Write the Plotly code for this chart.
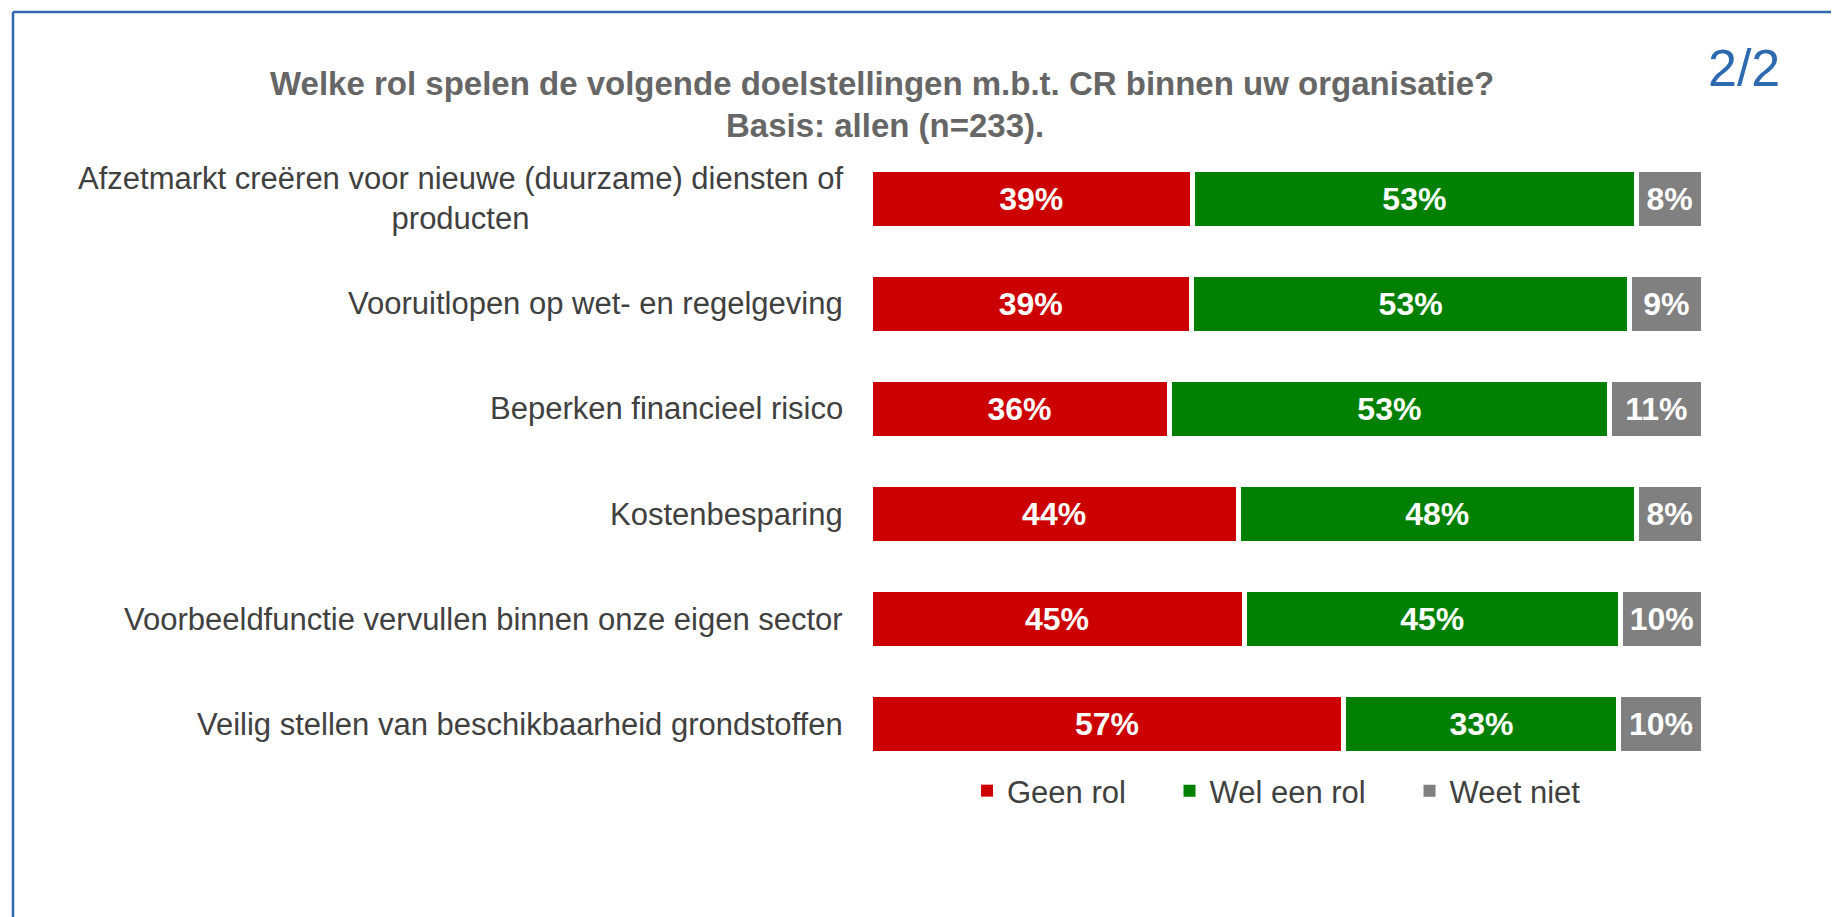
import plotly.graph_objects as go

# ---------------- data ----------------
categories = [
    "Afzetmarkt creëren voor nieuwe (duurzame) diensten of<br>producten",
    "Vooruitlopen op wet- en regelgeving",
    "Beperken financieel risico",
    "Kostenbesparing",
    "Voorbeeldfunctie vervullen binnen onze eigen sector",
    "Veilig stellen van beschikbaarheid grondstoffen",
]
geen_rol = [38.7, 38.6, 35.9, 44.2, 44.9, 56.9]
wel_een_rol = [53.3, 52.6, 52.9, 47.8, 45.2, 33.0]
weet_niet = [8.0, 8.8, 11.2, 8.0, 9.9, 10.1]
series_names = ["Geen rol", "Wel een rol", "Weet niet"]
series_values = [geen_rol, wel_een_rol, weet_niet]
colors = ["#CC0000", "#008000", "#808080"]
title_line1 = "Welke rol spelen de volgende doelstellingen m.b.t. CR binnen uw organisatie?"
title_line2 = "Basis: allen (n=233)."
page_label = "2/2"

# ---------------- layout geometry ----------------
OFF = 8                      # default page body margin
FW, FH = 1839 - OFF, 917 - OFF
ML, MT = 862, 138
PW, PH = 833, 631
MR = FW - ML - PW
MB = FH - MT - PH


def px_x(px):
    return (px - OFF - ML) / PW


def px_y(py):
    return (FH - MB - (py - OFF)) / PH


FONT = "Liberation Sans, Arial, sans-serif"

fig = go.Figure()
for name, vals, col in zip(series_names, series_values, colors):
    fig.add_trace(go.Bar(
        y=categories, x=vals, name=name, orientation="h",
        marker=dict(color=col, line=dict(color="white", width=5)),
        texttemplate="<b>%{x:.0f}%</b>", textposition="inside",
        insidetextanchor="middle", textangle=0,
        textfont=dict(family=FONT, size=32, color="white"),
        showlegend=False, hoverinfo="skip",
    ))

# legend entries (one legend per entry for exact placement)
legend_ids = ["legend", "legend2", "legend3"]
for name, col, lid in zip(series_names, colors, legend_ids):
    fig.add_trace(go.Scatter(
        x=[None], y=[None], mode="markers", name=name,
        marker=dict(symbol="square", size=12, color=col),
        legend=lid, showlegend=True, hoverinfo="skip",
    ))

annotations = []
for cat in categories:
    annotations.append(dict(
        x=px_x(845), xref="paper", y=cat, yref="y", text=cat,
        xanchor="right", yanchor="middle", align="center", showarrow=False,
        font=dict(family=FONT, size=31, color="#404040"),
    ))
annotations.append(dict(
    x=px_x(882), y=px_y(84), xref="paper", yref="paper", text="<b>" + title_line1 + "</b>",
    xanchor="center", yanchor="middle", showarrow=False,
    font=dict(family=FONT, size=33, color="#666666"),
))
annotations.append(dict(
    x=px_x(885), y=px_y(125), xref="paper", yref="paper", text="<b>" + title_line2 + "</b>",
    xanchor="center", yanchor="middle", showarrow=False,
    font=dict(family=FONT, size=33, color="#666666"),
))
annotations.append(dict(
    x=px_x(1744), y=px_y(68), xref="paper", yref="paper", text=page_label,
    xanchor="center", yanchor="middle", showarrow=False,
    font=dict(family=FONT, size=52, color="#2E6AAF"),
))

shapes = [
    dict(type="line", xref="paper", yref="paper", x0=px_x(13), x1=px_x(1845),
         y0=px_y(12), y1=px_y(12), line=dict(color="#2F68AC", width=2.5)),
    dict(type="line", xref="paper", yref="paper", x0=px_x(13), x1=px_x(13),
         y0=px_y(12), y1=px_y(925), line=dict(color="#2F68AC", width=2.5)),
]

legend_common = dict(orientation="h", xanchor="left", yanchor="middle",
                     bgcolor="rgba(0,0,0,0)", font=dict(family=FONT, size=31, color="#404040"),
                     itemclick=False, itemdoubleclick=False)
square_centers = [987.5, 1190, 1430]
legend_layout = {}
for lid, cx in zip(legend_ids, square_centers):
    legend_layout[lid] = dict(legend_common, x=px_x(cx - 20.5), y=px_y(791))

fig.update_layout(
    width=FW, height=FH,
    margin=dict(l=ML, r=MR, t=MT, b=MB, autoexpand=False),
    barmode="stack", bargap=0.44,
    plot_bgcolor="white", paper_bgcolor="white",
    xaxis=dict(range=[0, 100], visible=False, fixedrange=True),
    yaxis=dict(autorange="reversed", showticklabels=False, showgrid=False,
               zeroline=False, showline=False, ticks="", fixedrange=True),
    annotations=annotations, shapes=shapes,
    uniformtext=dict(minsize=32, mode="show"),
    showlegend=True,
    **legend_layout,
)

fig.write_html("out.html", config={"displayModeBar": False})
